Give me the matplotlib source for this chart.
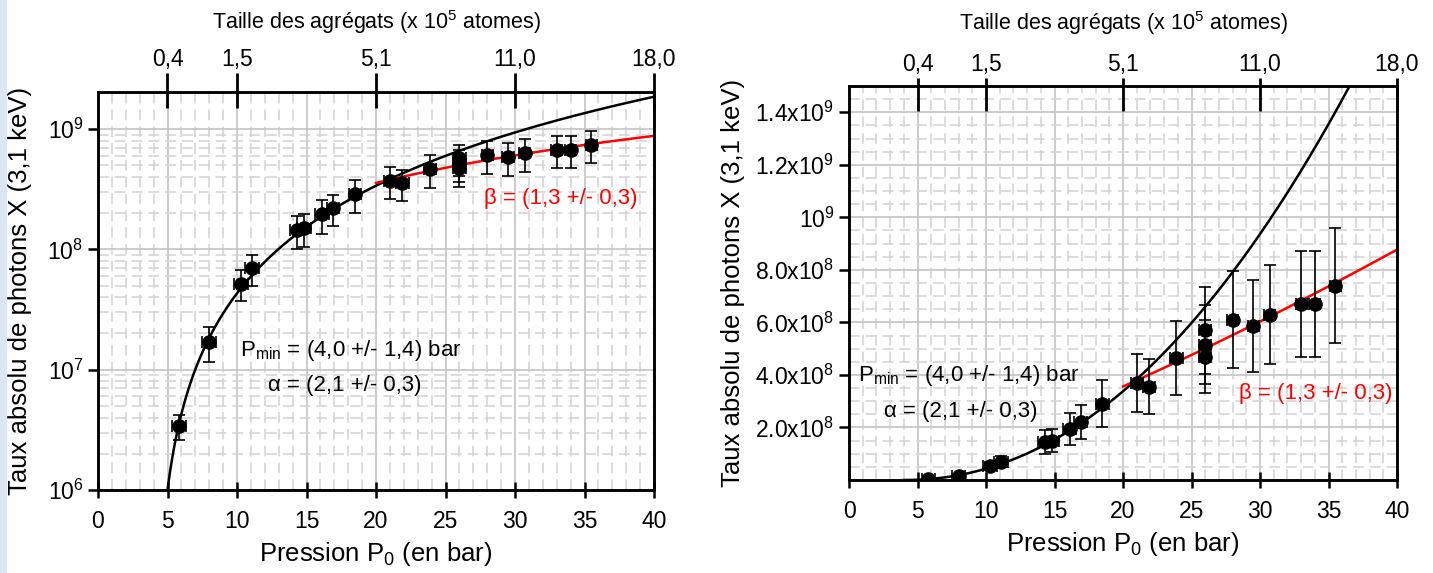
import numpy as np
import matplotlib
matplotlib.use("Agg")
import matplotlib.pyplot as plt
from matplotlib.ticker import FixedLocator, MultipleLocator, NullFormatter, LogLocator
from matplotlib.patches import Rectangle

plt.rcParams.update({
    "font.family": ["Liberation Sans", "DejaVu Sans"],
    "mathtext.fontset": "custom",
    "mathtext.rm": "Liberation Sans",
    "mathtext.it": "Liberation Sans:italic",
    "mathtext.bf": "Liberation Sans:bold",
    "font.size": 16,
})

# measured points: pressure (bar), photon rate, errors
pressure = [5.8, 8.0, 10.3, 11.1, 14.3, 14.8, 16.1, 16.9, 18.5, 21.0, 21.9,
            23.9, 26.0, 26.0, 26.0, 28.0, 29.5, 30.7, 33.0, 34.0, 35.5]
pressure_err = [0.5, 0.5, 0.5, 0.5, 0.5, 0.5, 0.5, 0.45, 0.45, 0.45, 0.45,
                0.45, 0.45, 0.45, 0.45, 0.4, 0.4, 0.4, 0.4, 0.4, 0.4]
rate = [3.4e6, 1.7e7, 5.2e7, 7.0e7, 1.45e8, 1.5e8, 1.95e8, 2.2e8, 2.9e8, 3.7e8, 3.55e8,
        4.65e8, 5.7e8, 5.15e8, 4.7e8, 6.1e8, 5.85e8, 6.3e8, 6.7e8, 6.7e8, 7.4e8]
rate_err = [0.8e6, 0.55e7, 1.5e7, 2.0e7, 0.45e8, 0.45e8, 0.6e8, 0.65e8, 0.9e8, 1.1e8, 1.05e8,
            1.4e8, 1.65e8, 1.5e8, 1.4e8, 1.85e8, 1.75e8, 1.9e8, 2.0e8, 2.0e8, 2.2e8]

# fit parameters shown on the chart
P_MIN = 4.0
ALPHA = 2.1
A_FIT = 1.0e6
BETA = 1.3
B_FIT = 7.25e6

# top axis: cluster size (x 1e5 atoms) at given pressures
top_pos = [5, 10, 20, 30, 40]
top_labels = ["0,4", "1,5", "5,1", "11,0", "18,0"]

right_yticks = [2e8, 4e8, 6e8, 8e8, 1e9, 1.2e9, 1.4e9]
right_ylabels = [r"2.0x10$^8$", r"4.0x10$^8$", r"6.0x10$^8$", r"8.0x10$^8$",
                 r"10$^9$", r"1.2x10$^9$", r"1.4x10$^9$"]

W, H = 1433, 573
fig = plt.figure(figsize=(W / 100, H / 100), dpi=100)
fig.patches.append(Rectangle((0, 0), 6 / W, 1, transform=fig.transFigure,
                             color="#dce6f5", zorder=0))

ax1 = fig.add_axes([98 / W, 1 - 490 / H, 556 / W, 398 / H])
ax2 = fig.add_axes([849 / W, 1 - 480 / H, 548 / W, 394 / H])

TICK_FS = 16.5
LABEL_FS = 18.5
NOTE_FS = 16


def style(ax, out_len, in_len, top_pad, top_labelpad):
    ax.set_xlim(0, 40)
    ax.xaxis.set_major_locator(MultipleLocator(5))
    ax.xaxis.set_minor_locator(MultipleLocator(1))
    ax.set_axisbelow(True)
    ax.grid(which="major", color="#c4c4c4", lw=1.2)
    ax.grid(which="minor", color="#d2d2d2", lw=1.1, ls=(0, (7, 4)))
    for s in ax.spines.values():
        s.set_linewidth(1.8)
    ax.tick_params(axis="x", which="major", direction="inout", length=11, width=1.8,
                   labelsize=TICK_FS, pad=9)
    ax.tick_params(axis="y", which="major", direction="out", length=7, width=1.8,
                   labelsize=TICK_FS)
    ax.tick_params(which="minor", length=0)
    ax.set_xlabel(r"Pression P$_0$ (en bar)", fontsize=LABEL_FS, labelpad=5)
    ax.set_ylabel("Taux absolu de photons X (3,1 keV)", fontsize=LABEL_FS)
    ax.errorbar(pressure, rate, xerr=pressure_err, yerr=rate_err, fmt="o",
                color="black", ms=9.5, capsize=4.5, elinewidth=1.2, capthick=1.2, zorder=3)
    top = ax.twiny()
    top.set_xlim(0, 40)
    top.set_xticks(top_pos)
    top.set_xticklabels(top_labels)
    top.xaxis.set_minor_locator(FixedLocator(top_pos))
    top.xaxis.remove_overlapping_locs = False
    top.tick_params(which="major", direction="out", length=out_len, width=2.0,
                    labelsize=TICK_FS, pad=top_pad)
    top.tick_params(which="minor", direction="in", length=in_len, width=2.0)
    for s in top.spines.values():
        s.set_linewidth(1.8)
    top.set_xlabel(r"Taille des agrégats (x 10$^5$ atomes)", fontsize=15.5,
                   labelpad=top_labelpad)
    return top


# left panel: log scale
style(ax1, 14, 11.5, 1, 14)
ax1.set_yscale("log")
ax1.set_ylim(1e6, 2.03e9)
ax1.yaxis.set_major_locator(LogLocator(base=10, numticks=10))
ax1.yaxis.set_minor_locator(LogLocator(base=10, subs=np.arange(2, 10), numticks=20))
ax1.yaxis.set_minor_formatter(NullFormatter())
p1 = np.linspace(P_MIN + 1.0, 40, 400)
ax1.plot(p1, A_FIT * (p1 - P_MIN) ** ALPHA, color="black", lw=1.8, zorder=2)
pr = np.linspace(20, 40, 100)
ax1.plot(pr, B_FIT * pr ** BETA, color="red", lw=1.8, zorder=2)
ax1.text(10.2, 1.44e7, r"P$_{\rm min}$ = (4,0 +/- 1,4) bar", fontsize=NOTE_FS, va="center")
ax1.text(12.2, 7.4e6, "α = (2,1 +/- 0,3)", fontsize=NOTE_FS, va="center")
ax1.text(27.8, 2.66e8, "β = (1,3 +/- 0,3)", fontsize=NOTE_FS, va="center", color="red")

# right panel: linear scale
style(ax2, 6, 18, 1.5, 16)
ax2.set_ylim(0, 1.5e9)
ax2.yaxis.set_major_locator(FixedLocator(right_yticks))
ax2.set_yticklabels(right_ylabels)
ax2.yaxis.set_minor_locator(MultipleLocator(0.5e8))
p2 = np.linspace(P_MIN, 40, 400)
ax2.plot(p2, A_FIT * (p2 - P_MIN) ** ALPHA, color="black", lw=1.8, zorder=2)
ax2.plot(pr, B_FIT * pr ** BETA, color="red", lw=1.8, zorder=2)
ax2.text(0.66, 3.98e8, r"P$_{\rm min}$ = (4,0 +/- 1,4) bar", fontsize=NOTE_FS, va="center")
ax2.text(2.55, 2.6e8, "α = (2,1 +/- 0,3)", fontsize=NOTE_FS, va="center")
ax2.text(28.5, 3.3e8, "β = (1,3 +/- 0,3)", fontsize=NOTE_FS, va="center", color="red")

ax1.yaxis.set_label_coords(-0.119, 0.5)
ax2.yaxis.set_label_coords(-0.19, 0.5)

fig.savefig("out.png", dpi=100)
